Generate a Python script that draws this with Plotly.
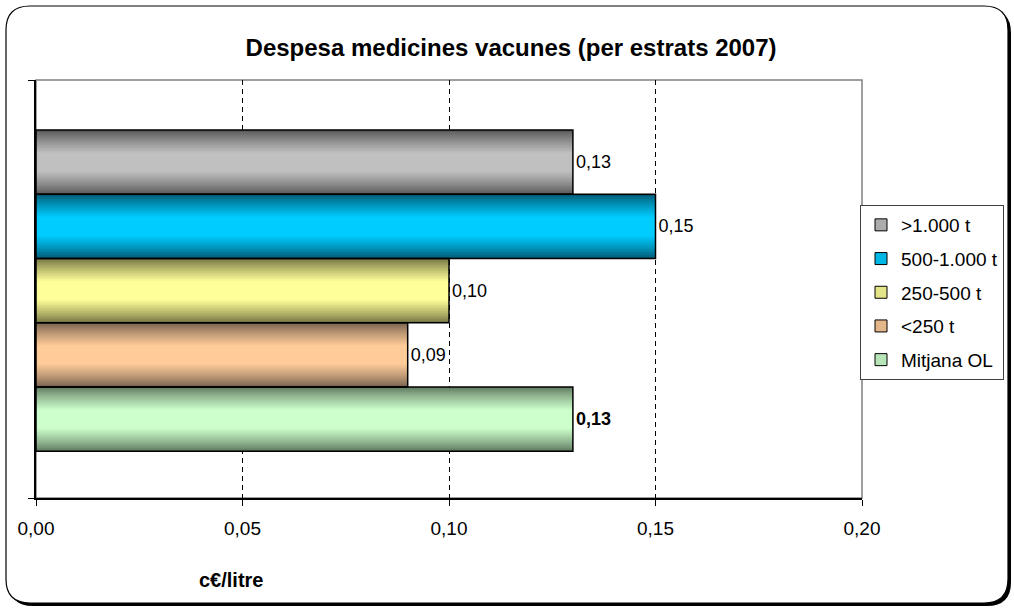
import plotly.graph_objects as go

# data
series = [">1.000 t", "500-1.000 t", "250-500 t", "<250 t", "Mitjana OL"]
values = [0.13, 0.15, 0.10, 0.09, 0.13]
x_ticks = [0.00, 0.05, 0.10, 0.15, 0.20]

# edge (dark) and centre (light) colours of the shaded bars
edge_cols = [(90, 90, 90), (0, 92, 118), (118, 118, 68), (122, 100, 80), (98, 124, 98)]
centre_cols = [(192, 192, 192), (0, 204, 255), (255, 255, 153), (255, 204, 153), (204, 255, 204)]

FONT = "Arial, Liberation Sans, sans-serif"
W, H = 1014, 608
L, R, T, B = 36, 862, 80, 498          # plot area in pixels


def px(x):
    return (x - L) / (R - L)


def py(y):
    return (B - y) / (B - T)


def mix(a, b, t):
    return "rgb(%d,%d,%d)" % tuple(round(a[i] + (b[i] - a[i]) * t) for i in range(3))


def rounded_rect(x0, y0, x1, y1, r):
    rx, ry = r / (R - L), r / (B - T)
    X0, X1, Y0, Y1 = px(x0), px(x1), py(y0), py(y1)
    return (f"M {X0+rx},{Y0} L {X1-rx},{Y0} Q {X1},{Y0} {X1},{Y0-ry} "
            f"L {X1},{Y1+ry} Q {X1},{Y1} {X1-rx},{Y1} L {X0+rx},{Y1} "
            f"Q {X0},{Y1} {X0},{Y1+ry} L {X0},{Y0-ry} Q {X0},{Y0} {X0+rx},{Y0} Z")


n = len(series)
ypos = list(range(n))[::-1]
layers = 15

fig = go.Figure()

# shaded bars: stacked overlay of narrowing bars, light in the middle
for i, (name, v) in enumerate(zip(series, values)):
    for k in range(layers):
        w = 1 - k * 0.7 / (layers - 1)
        t = min(1.0, (1 - w) / 0.7) ** 0.85
        fig.add_trace(go.Bar(
            x=[v], y=[ypos[i]], orientation="h", width=w,
            marker=dict(color=mix(edge_cols[i], centre_cols[i], t), line=dict(width=0)),
            showlegend=False, hoverinfo="skip",
        ))

# outlines + value labels
for i, (name, v) in enumerate(zip(series, values)):
    tmpl = "<b>%{x:.2f}</b>" if i == n - 1 else "%{x:.2f}"
    fig.add_trace(go.Bar(
        x=[v], y=[ypos[i]], orientation="h", width=1,
        marker=dict(color="rgba(0,0,0,0)", line=dict(color="black", width=1.5)),
        texttemplate=tmpl, textposition="outside", cliponaxis=False,
        textfont=dict(size=18, color="black", family=FONT),
        showlegend=False, name=name,
    ))

# legend entries
for i, name in enumerate(series):
    fig.add_trace(go.Bar(
        x=[None], y=[None], orientation="h", name=name, legendgroup=name,
        marker=dict(color=mix(edge_cols[i], centre_cols[i], 0.8),
                    line=dict(color="black", width=1)),
    ))

shapes = [
    # card shadow and rounded border
    dict(type="path", xref="paper", yref="paper", layer="below",
         path=rounded_rect(9, 9, 1011, 606, 24), fillcolor="black", line=dict(width=0)),
    dict(type="path", xref="paper", yref="paper", layer="below",
         path=rounded_rect(6, 6, 1008, 603, 24), fillcolor="white",
         line=dict(color="black", width=1.2)),
    # plot area border (top/right grey)
    dict(type="rect", xref="paper", yref="paper", layer="below",
         x0=0, x1=1, y0=0, y1=1, line=dict(color="#808080", width=1.5)),
]

fig.update_layout(
    width=W, height=H,
    barmode="overlay",
    separators=",.",
    paper_bgcolor="white", plot_bgcolor="white",
    margin=dict(l=L, r=W - R, t=T, b=H - B, autoexpand=False),
    font=dict(family=FONT, size=18, color="black"),
    title=dict(text="<b>Despesa medicines vacunes (per estrats 2007)</b>",
               x=0.504, xanchor="center", y=1 - 48 / H, yanchor="middle",
               font=dict(size=24, family=FONT, color="black")),
    xaxis=dict(range=[0, 0.2], tickvals=x_ticks, tickformat=".2f",
               showgrid=True, gridcolor="black", gridwidth=1, griddash="5px,4px",
               zeroline=False, showline=True, linecolor="black", linewidth=1.5,
               ticks="outside", ticklen=6, tickcolor="black", tickwidth=1,
               ticklabelstandoff=6, tickfont=dict(size=19)),
    yaxis=dict(range=[-1.23, 5.28], tickvals=[-1.23, 5.28], showticklabels=False,
               showgrid=False, zeroline=False, showline=True, linecolor="black",
               linewidth=1.5, ticks="outside", ticklen=6, tickcolor="black"),
    legend=dict(x=px(860), y=py(205), xanchor="left", yanchor="top",
                bordercolor="#404040", borderwidth=1, bgcolor="white",
                font=dict(size=19, family=FONT), tracegroupgap=6,
                traceorder="grouped", itemwidth=30),
    shapes=shapes,
    annotations=[dict(text="<b>c€/litre</b>", xref="paper", yref="paper",
                      x=px(197), y=py(580), yanchor="middle", showarrow=False,
                      font=dict(size=20, family=FONT, color="black"))],
)

fig.write_html(
    "out.html",
    config={"displayModeBar": False, "responsive": False},
    default_width="1014px", default_height="608px",
    post_script="document.body.style.margin='0';document.body.style.overflow='hidden';",
)
